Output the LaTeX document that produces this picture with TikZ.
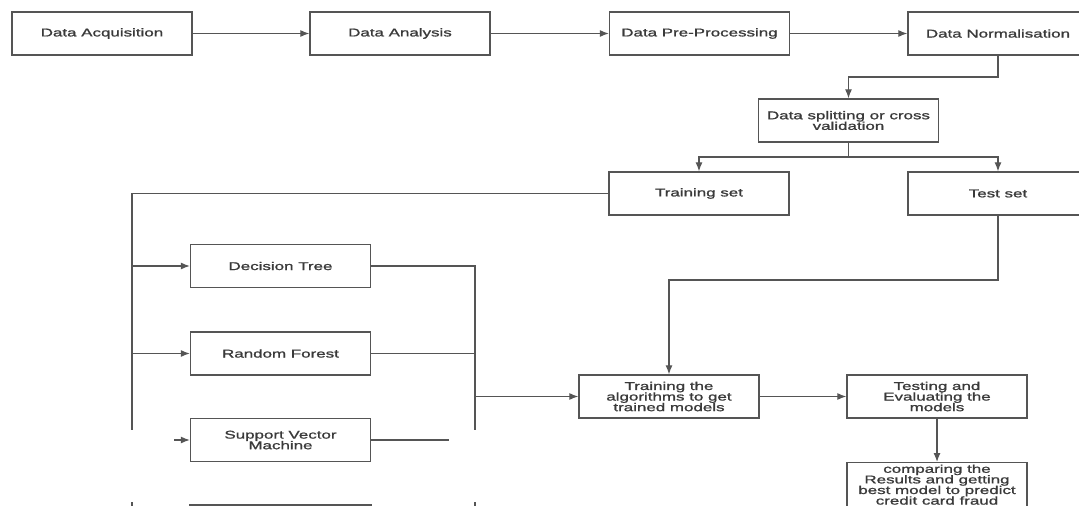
\documentclass[tikz,border=0pt]{standalone}
\usepackage{fontspec}
\setmainfont[FakeStretch=1.5,FakeBold=1.2]{Liberation Sans}
\usetikzlibrary{arrows.meta}
\definecolor{linec}{HTML}{555555}
\definecolor{txtc}{HTML}{3A3A3A}
\begin{document}
\begin{tikzpicture}[x=1pt,y=-1pt,
  box/.style={draw=linec, line width=1.3pt, minimum width=180pt, minimum height=43pt, inner sep=1pt, align=center, font=\fontsize{11.3}{10.6}\selectfont, text=txtc},
  conn/.style={draw=linec, line width=1.2pt},
  arr/.style={conn, -{Latex[length=9pt,width=7pt]}},
]
\useasboundingbox (0,0) rectangle (1079,506);
\fill[white] (0,0) rectangle (1079,506);
\clip (0,0) rectangle (1079,506);
% top row
\node[box] (DA)  at (102,33.5)   {Data Acquisition};
\node[box] (DAn) at (400,33.5)   {Data Analysis};
\node[box] (PP)  at (699.5,33.5) {Data Pre-Processing};
\node[box] (DN)  at (998,33.5)   {Data Normalisation};
% splitting
\node[box] (SP)  at (848.5,120.5) {Data splitting or cross\\validation};
\node[box] (TR)  at (699,193.5)  {Training set};
\node[box] (TS)  at (998,193.5)  {Test set};
% algorithms
\node[box] (DT)  at (280.5,266)   {Decision Tree};
\node[box] (RF)  at (280.5,353.5) {Random Forest};
\node[box] (SVM) at (280.5,440)   {Support Vector\\Machine};
% right part
\node[box] (TA)  at (669,396.5) {Training the\\algorithms to get\\trained models};
\node[box] (TE)  at (937,396.5) {Testing and\\Evaluating the\\models};
\node[box, minimum height=44pt, anchor=north] (CMP) at (937,462) {comparing the\\Results and getting\\best model to predict\\credit card fraud};
% coordinates
\coordinate (k1) at (998,77);
\coordinate (k2) at (848.5,157);
\coordinate (L1) at (132,193.5);
\coordinate (L2) at (132,430);
\coordinate (s1) at (174,440);
\coordinate (R1) at (475,266);
\coordinate (R2) at (475,430);
\coordinate (s2) at (449,440);
\coordinate (t1) at (998,280);
\coordinate (b1) at (132,502);
\coordinate (b2) at (132,520);
\coordinate (b3) at (475,502);
\coordinate (b4) at (475,520);
% connectors
\draw[arr] (DA) -- (DAn);
\draw[arr] (DAn) -- (PP);
\draw[arr] (PP) -- (DN);
\draw[arr] (DN.south) -- (k1) -| (SP.north);
\draw[conn] (SP.south) -- (k2);
\draw[arr] (k2) -| (TR.north);
\draw[arr] (k2) -| (TS.north);
\draw[conn] (TR.west) -- (L1) -- (L2);
\draw[arr] (L1 |- DT) -- (DT.west);
\draw[arr] (L1 |- RF) -- (RF.west);
\draw[arr] (s1) -- (SVM.west);
\draw[conn] (DT.east) -- (R1) -- (R2);
\draw[conn] (RF.east) -- (R1 |- RF);
\draw[conn] (SVM.east) -- (s2);
\draw[arr] (R1 |- TA) -- (TA.west);
\draw[arr] (TS.south) -- (t1) -| (TA.north);
\draw[arr] (TA) -- (TE);
\draw[arr] (TE) -- (CMP);
% cut-off parts at the bottom
\draw[draw=linec, line width=1.3pt] (190,505) rectangle (371,560);
\draw[conn] (b1) -- (b2);
\draw[conn] (b3) -- (b4);
\end{tikzpicture}
\end{document}
